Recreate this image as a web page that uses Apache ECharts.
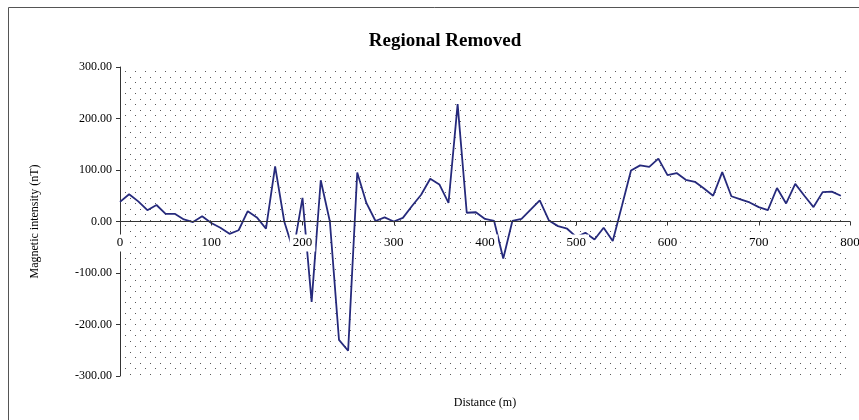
<!DOCTYPE html>
<html>
<head>
<meta charset="utf-8">
<script src="https://cdn.jsdelivr.net/npm/echarts@6/dist/echarts.min.js"></script>
<style>
  html, body { margin: 0; padding: 0; background: #fff; }
  #chart { width: 859px; height: 420px; }
</style>
</head>
<body>
<div id="chart"></div>
<script>
// Survey stations along the profile (m)
const distances = [
  0, 10, 20, 30, 40, 50, 60, 70, 80, 90,
  100, 110, 120, 130, 140, 150, 160, 170, 180, 190,
  200, 210, 220, 230, 240, 250, 260, 270, 280, 290,
  300, 310, 320, 330, 340, 350, 360, 370, 380, 390,
  400, 410, 420, 430, 440, 450, 460, 470, 480, 490,
  500, 510, 520, 530, 540, 550, 560, 570, 580, 590,
  600, 610, 620, 630, 640, 650, 660, 670, 680, 690,
  700, 710, 720, 730, 740, 750, 760, 770, 780, 790
];

// Residual magnetic intensity after regional trend removal (nT)
const residual = [
  38, 53, 39, 22, 32, 15, 15, 4, -1, 10,
  -3, -12, -24, -17, 20, 8, -14, 107, 0, -57,
  46, -156, 80, 0, -230, -251, 95, 36, 1, 8,
  0, 7, 30, 52, 83, 72, 36, 228, 17, 18,
  5, 1, -72, 1, 5, 23, 41, 2, -9, -14,
  -30, -22, -35, -12, -38, 30, 99, 109, 106, 122,
  90, 94, 81, 77, 64, 50, 96, 49, 43, 37,
  28, 22, 65, 35, 73, 50, 28, 57, 58, 50
];

const title = 'Regional Removed';
const xName = 'Distance (m)';
const yName = 'Magnetic intensity (nT)';

// Dotted fill tile for the plot area
function dotTile() {
  const c = document.createElement('canvas');
  c.width = 10; c.height = 11;
  const g = c.getContext('2d');
  g.fillStyle = 'rgba(60,60,60,0.85)';
  g.fillRect(0, 0, 1, 1);
  g.fillRect(5, 5, 1, 1);
  return c;
}

const serif = '"Liberation Serif", "DejaVu Serif", serif';
const H = 420;
const gridTop = 67, gridBottom = 44;
const yMin = -300, yMax = 300;
// distance from the bottom edge of the plot up to the zero line,
// so the distance labels can sit right under the zero axis
const plotH = H - gridTop - gridBottom;
const zeroLift = plotH * (0 - yMin) / (yMax - yMin);

const chart = echarts.init(document.getElementById('chart'), null, { renderer: 'canvas' });

chart.setOption({
  animation: false,
  backgroundColor: '#fff',
  textStyle: { fontFamily: serif },
  title: {
    text: title,
    left: 440,
    top: 27,
    textAlign: 'center',
    textStyle: { fontFamily: serif, fontSize: 19, fontWeight: 'bold', color: '#000' }
  },
  graphic: [{
    type: 'rect',
    left: 6, top: 5,
    shape: { width: 1000, height: 1000 },
    style: { fill: 'none', stroke: '#555', lineWidth: 1 },
    silent: true,
    z: 100
  }],
  grid: {
    left: 120, right: 9, top: gridTop, bottom: gridBottom,
    outerBoundsMode: 'none',
    containLabel: false,
    show: true,
    borderWidth: 0,
    backgroundColor: { image: dotTile(), repeat: 'repeat' }
  },
  xAxis: {
    type: 'value',
    min: 0, max: 800, interval: 100,
    z: 5,
    name: xName,
    nameLocation: 'middle',
    nameGap: 21,
    nameTextStyle: { fontFamily: serif, fontSize: 12, color: '#000' },
    axisLine: { onZero: true, lineStyle: { color: '#333', width: 1 } },
    axisTick: { show: true, length: 4, lineStyle: { color: '#333' } },
    axisLabel: {
      fontFamily: serif, fontSize: 13, color: '#000',
      margin: 13 - zeroLift,
      backgroundColor: '#fff',
      padding: [2, 3, 2, 3]
    },
    splitLine: { show: false }
  },
  yAxis: {
    type: 'value',
    min: yMin, max: yMax, interval: 100,
    name: yName,
    nameLocation: 'middle',
    nameGap: 79,
    nameRotate: 90,
    nameTextStyle: { fontFamily: serif, fontSize: 12, color: '#000' },
    axisLine: { show: true, lineStyle: { color: '#333', width: 1 } },
    axisTick: { show: true, length: 4, lineStyle: { color: '#333' } },
    axisLabel: {
      fontFamily: serif, fontSize: 12, color: '#000', margin: 8,
      formatter: v => v.toFixed(2)
    },
    splitLine: { show: false }
  },
  series: [{
    type: 'line',
    data: distances.map((d, i) => [d, residual[i]]),
    showSymbol: false,
    symbol: 'none',
    lineStyle: { color: '#262a7c', width: 1.8 },
    z: 2
  }]
});
</script>
</body>
</html>
